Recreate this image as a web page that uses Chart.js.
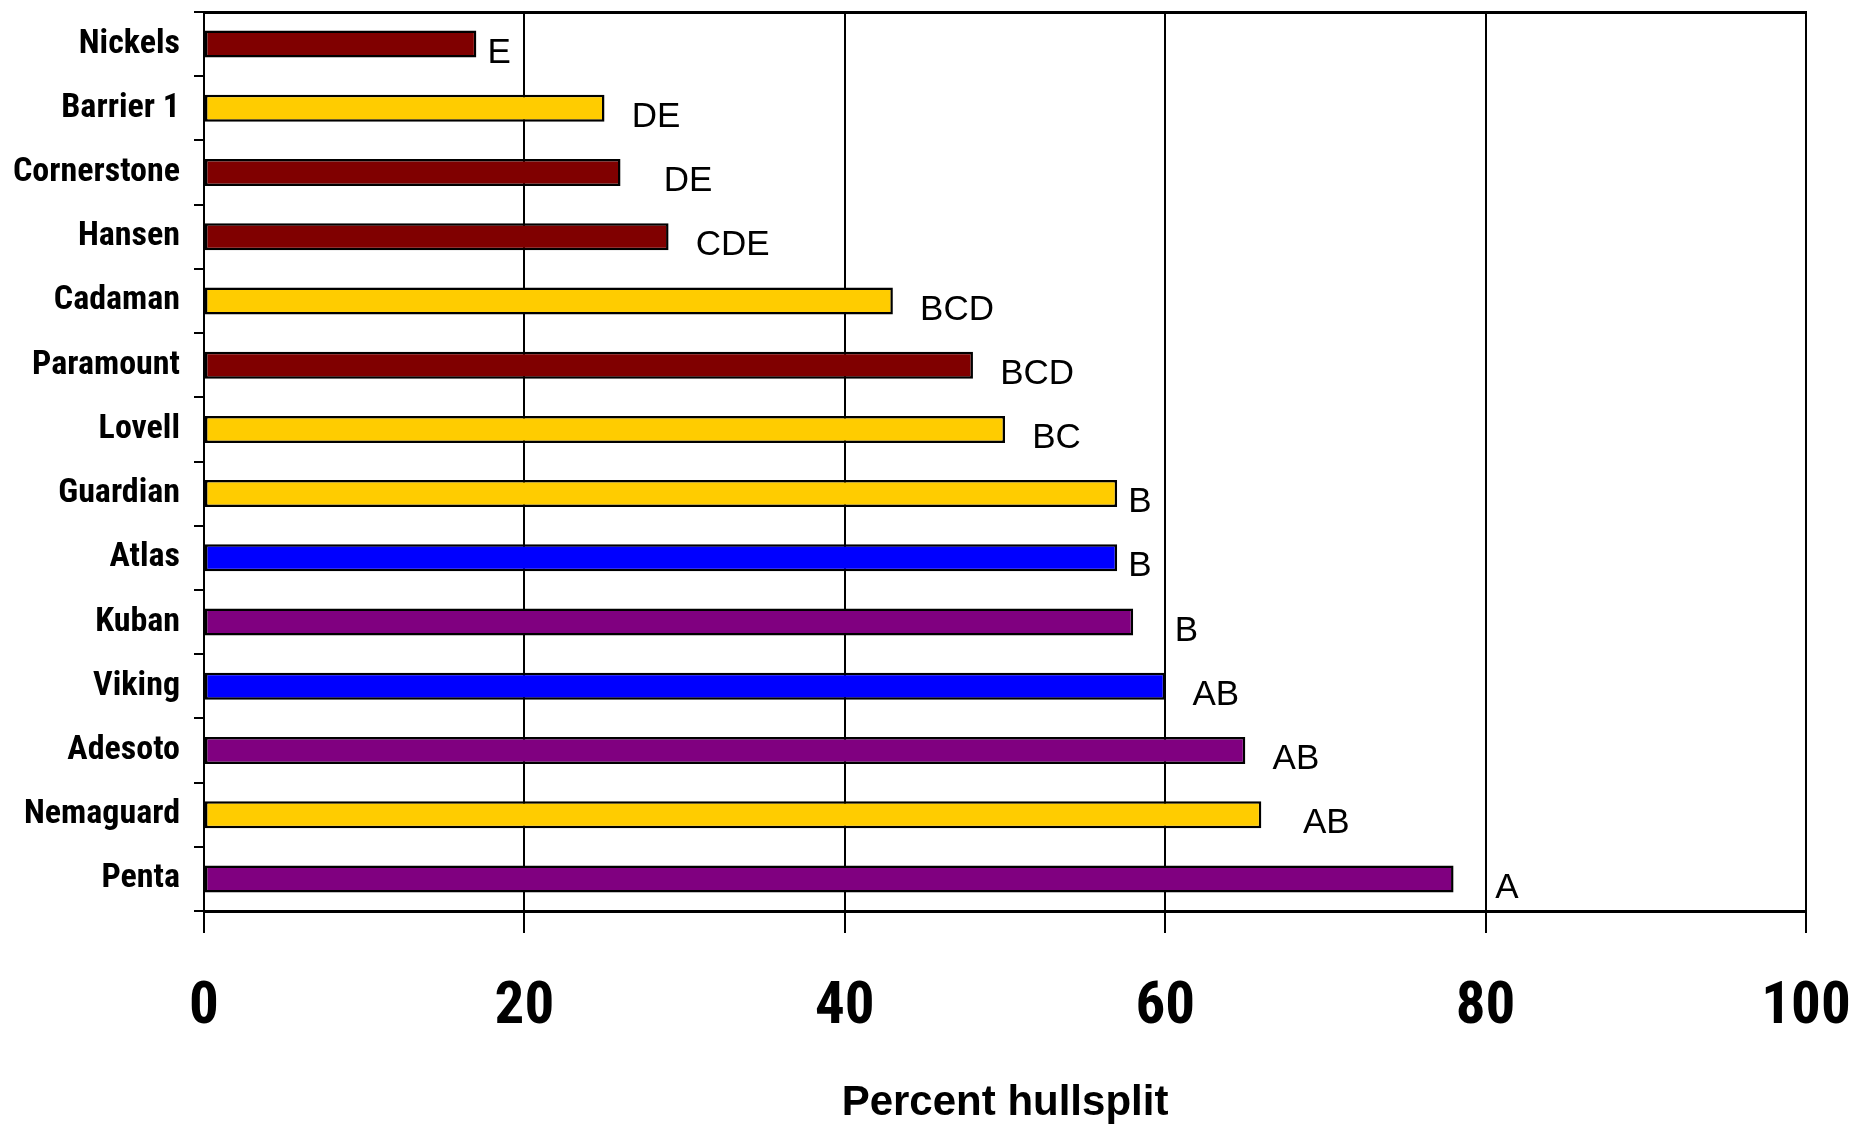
<!DOCTYPE html>
<html>
<head>
<meta charset="utf-8">
<script src="https://cdn.jsdelivr.net/npm/chart.js@4.4.1/dist/chart.umd.min.js"></script>
<style>
  html, body { margin: 0; padding: 0; background: #fff; }
  #wrap { width: 1855px; height: 1129px; position: relative; }
</style>
</head>
<body>
<div id="wrap"><canvas id="chart"></canvas></div>
<script>
const cultivars = ["Nickels", "Barrier 1", "Cornerstone", "Hansen", "Cadaman", "Paramount", "Lovell",
  "Guardian", "Atlas", "Kuban", "Viking", "Adesoto", "Nemaguard", "Penta"];
const hullsplit = [17, 25, 26, 29, 43, 48, 50, 57, 57, 58, 60, 65, 66, 78];
const letters = ["E", "DE", "DE", "CDE", "BCD", "BCD", "BC", "B", "B", "B", "AB", "AB", "AB", "A"];
// gap between bar end and its letter, in percent units
const letterGap = [0.7, 1.7, 2.7, 1.7, 1.7, 1.7, 1.7, 0.7, 0.7, 2.6, 1.7, 1.7, 2.6, 2.6];
const groups = ["red", "yellow", "red", "red", "yellow", "red", "yellow",
  "yellow", "blue", "purple", "blue", "purple", "yellow", "purple"];
const xTicks = [0, 20, 40, 60, 80, 100];

const groupColors = { red: "#800000", yellow: "#FFCC00", blue: "#0000FF", purple: "#800080" };
const SANS = '"Liberation Sans", Arial, sans-serif';
const NARROW = '"Roboto Condensed", "Liberation Sans", sans-serif';

const letterPlugin = {
  id: "letters",
  afterDatasetsDraw(chart) {
    const ctx = chart.ctx;
    const xs = chart.scales.x;
    const meta = chart.getDatasetMeta(0);
    ctx.save();
    ctx.font = "35px " + SANS;
    ctx.fillStyle = "#000";
    ctx.textAlign = "left";
    ctx.textBaseline = "middle";
    meta.data.forEach((bar, i) => {
      const x = xs.getPixelForValue(hullsplit[i] + letterGap[i]);
      ctx.fillText(letters[i], x, bar.y + 9);
    });
    ctx.restore();
  }
};

new Chart(document.getElementById("chart"), {
  type: "bar",
  data: {
    labels: cultivars,
    datasets: [{
      data: hullsplit,
      backgroundColor: groups.map(g => groupColors[g]),
      borderColor: "#000",
      borderWidth: 2.5,
      borderSkipped: false,
      categoryPercentage: 1,
      barPercentage: 0.42
    }]
  },
  options: {
    indexAxis: "y",
    responsive: true,
    maintainAspectRatio: false,
    animation: false,
    layout: { padding: { left: 0, right: 49, top: 0, bottom: 0 } },
    plugins: { legend: { display: false }, tooltip: { enabled: false } },
    scales: {
      x: {
        type: "linear",
        position: "bottom",
        min: 0, max: 100,
        afterBuildTicks: s => { s.ticks = xTicks.map(v => ({ value: v })); },
        afterFit: s => { s.height = 218; s.paddingLeft = 0; s.paddingRight = 0; },
        grid: { color: "#000", lineWidth: 2, drawTicks: true, tickLength: 22, tickColor: "#000" },
        border: { display: true, color: "#000", width: 3 },
        ticks: {
          color: "#000", padding: 40, maxRotation: 0,
          font: { family: NARROW, size: 59, weight: "bold" }
        },
        title: {
          display: true, text: "Percent hullsplit", color: "#000",
          padding: { top: 0, bottom: 0 },
          font: { family: SANS, size: 42, weight: "bold" }
        }
      },
      x2: {
        type: "linear",
        position: "top",
        min: 0, max: 100,
        afterFit: s => { s.height = 12; s.paddingLeft = 0; s.paddingRight = 0; },
        grid: { display: false },
        ticks: { display: false },
        border: { display: true, color: "#000", width: 3 }
      },
      y: {
        afterFit: s => { s.width = 204; s.paddingTop = 0; s.paddingBottom = 0; },
        grid: { drawOnChartArea: false, drawTicks: true, tickLength: 10, tickColor: "#000", lineWidth: 2 },
        border: { display: true, color: "#000", width: 2 },
        ticks: {
          color: "#000", padding: 14,
          font: { family: NARROW, size: 34, weight: "bold" }
        }
      }
    }
  },
  plugins: [letterPlugin]
});
</script>
</body>
</html>
